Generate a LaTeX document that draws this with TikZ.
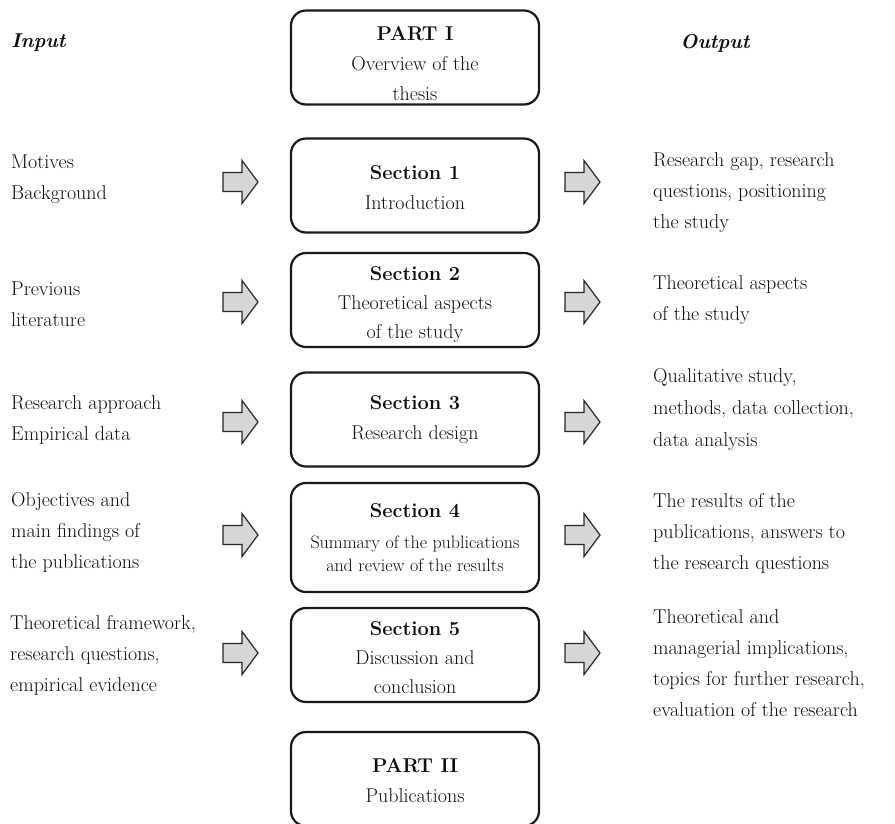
\documentclass[tikz,border=0pt]{standalone}
\usepackage{fontspec}
% invisible strut that lowers the text block inside a box
\newcommand\topgap[1]{\rule{0pt}{#1}}
\begin{document}
\begin{tikzpicture}[x=1pt,y=-1pt,
  box/.style={draw=black!90, text=black!95, line width=2.2pt, rounded corners=15pt,
    minimum width=248pt, minimum height=94pt, align=center, inner sep=0pt,
    font=\fontsize{20}{30}\selectfont},
  side/.style={anchor=west, align=left, inner sep=0pt, text=black!95,
    font=\fontsize{20}{31}\selectfont},
  colhead/.style={inner sep=0pt, text=black!95,
    font=\fontsize{20}{24}\selectfont\bfseries\itshape},
  blockarrow/.pic={
    \draw[line width=1.2pt, draw=black!85, fill=black!16, line join=miter]
      (-17.5,-9.5) -- (1.5,-9.5) -- (1.5,-21.5) -- (17.5,0) -- (1.5,21.5)
      -- (1.5,9.5) -- (-17.5,9.5) -- cycle;
  }]
\useasboundingbox[fill=white] (0,0) rectangle (895,823);

% column headings
\node[colhead, anchor=west] (inhead) at (11,43) {Input};
\node[colhead] (outhead) at (715,43) {Output};

% central column of parts and sections
\node[box] (p1) at (415,57.5) {\topgap{27pt}\textbf{PART I}\\Overview of the\\thesis};
\node[box] (s1) at (415,185.5) {\topgap{18pt}\textbf{Section 1}\\Introduction};
\node[box, font=\fontsize{20}{29}\selectfont] (s2) at (415,300)
  {\topgap{24pt}\textbf{Section 2}\\Theoretical aspects\\of the study};
\node[box] (s3) at (415,419.5) {\textbf{Section 3}\\Research design};
\node[box, minimum height=109pt, font=\fontsize{18}{23}\selectfont] (s4) at (415,537.5)
  {{\fontsize{20}{23}\selectfont\bfseries Section 4}\\[8pt]Summary of the publications\\and review of the results};
\node[box, font=\fontsize{20}{29}\selectfont] (s5) at (415,655)
  {\topgap{20pt}\textbf{Section 5}\\Discussion and\\conclusion};
\node[box] (p2) at (415,779) {\topgap{18pt}\textbf{PART II}\\Publications};

% inputs
\node[side] (i1) at (11,179) {Motives\\Background};
\node[side] (i2) at (11,304) {Previous\\literature};
\node[side] (i3) at (11,420) {Research approach\\Empirical data};
\node[side] (i4) at (11,532) {Objectives and\\main findings of\\the publications};
\node[side] (i5) at (10,655) {Theoretical framework,\\research questions,\\empirical evidence};

% outputs
\node[side] (o1) at (653,193) {Research gap, research\\questions, positioning\\the study};
\node[side] (o2) at (653,300) {Theoretical aspects\\of the study};
\node[side, font=\fontsize{20}{32}\selectfont] (o3) at (653,410) {Qualitative study,\\methods, data collection,\\data analysis};
\node[side] (o4) at (653,533) {The results of the\\publications, answers to\\the research questions};
\node[side] (o5) at (653,663) {Theoretical and\\managerial implications,\\topics for further research,\\evaluation of the research};

% block arrows into and out of each section
\foreach \y [count=\k] in {182,302,422,535,653} {
  \pic (la\k) at (240.5,\y) {blockarrow};
  \pic (ra\k) at (582.5,\y) {blockarrow};
}
\end{tikzpicture}
\end{document}
